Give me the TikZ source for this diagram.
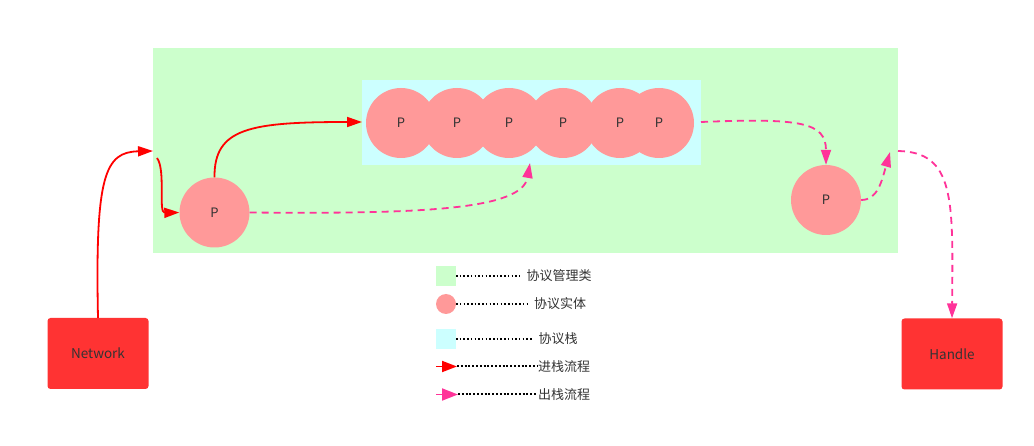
\documentclass[tikz,border=0pt]{standalone}
\usepackage{fontspec}
\setmainfont{Noto Sans CJK SC}
\usetikzlibrary{arrows.meta}
\definecolor{mgr}{HTML}{CCFFCC}
\definecolor{stk}{HTML}{CCFFFF}
\definecolor{ent}{HTML}{FF9999}
\definecolor{boxred}{HTML}{FF3333}
\definecolor{inred}{HTML}{FF0000}
\definecolor{outpink}{HTML}{FF3399}
\definecolor{txt}{HTML}{333333}
\tikzset{
  entity/.style={circle,fill=ent,minimum size=70pt,inner sep=0pt,text=txt,font=\fontsize{13pt}{15pt}\selectfont},
  endbox/.style={rounded corners=3pt,fill=boxred,minimum width=101pt,minimum height=71pt,inner sep=0pt,text=txt,font=\fontsize{13.5pt}{15pt}\selectfont},
  inflow/.style={draw=inred,line width=1.8pt,-{Triangle[length=15pt,width=10pt]}},
  outflow/.style={draw=outpink,line width=1.8pt,dash pattern=on 7pt off 5pt,-{Triangle[length=15pt,width=10pt]}},
  dotline/.style={draw=black,line width=1.5pt,dash pattern=on 1.5pt off 2.2pt},
  legtext/.style={text=txt,font=\fontsize{13pt}{15pt}\selectfont,inner sep=0pt}
}
\begin{document}
\begin{tikzpicture}[x=1pt,y=-1pt]
\useasboundingbox (0,0) rectangle (1034,446);
% containers
\fill[mgr] (153,48) rectangle (898,253);
\fill[stk] (362,80) rectangle (701,165);
% stack entities
\node[entity] (s1) at (401,123) {P};
\node[entity] (s2) at (457,123) {P};
\node[entity] (s3) at (509,123) {P};
\node[entity] (s4) at (563,123) {P};
\node[entity] (s5) at (620,123) {P};
\node[entity] (s6) at (659,123) {P};
% single entities
\node[entity] (pl) at (214.5,212.5) {P};
\node[entity] (pr) at (826,200) {P};
% end boxes
\node[endbox] (net) at (98,353.5) {Network};
\node[endbox] (hdl) at (952,354) {Handle};
% free-end coordinates
\coordinate (inA) at (153,151);
\coordinate (inB) at (157,158);
\coordinate (stkL) at (362,122);
\coordinate (stkR) at (701,122);
\coordinate (stkB) at (530,163);
\coordinate (outA) at (890,152);
\coordinate (outB) at (898,151);
% in-stack flow
\draw[inflow] (net.north) .. controls (95,175) and (105,152) .. (inA);
\draw[inflow] (inB) .. controls (166,170) and (158,213) .. (pl.west);
\draw[inflow] (pl.north) .. controls (214,128) and (250,122) .. (stkL);
% out-stack flow
\draw[outflow] (pl.east) .. controls (420,214) and (522,210) .. (stkB);
\draw[outflow] (stkR) .. controls (800,118) and (826,122) .. (pr.north);
\draw[outflow] (pr.east) .. controls (878,200) and (882,180) .. (outA);
\draw[outflow] (outB) .. controls (955,152) and (953,200) .. (hdl.north);
% legend
\fill[mgr] (436,266) rectangle (456,286);
\coordinate (l1a) at (456,276); \coordinate (l1b) at (522,276);
\draw[dotline] (l1a) -- (l1b);
\node[legtext] (t1) at (559,276) {协议管理类};
\node[circle,fill=ent,minimum size=20pt,inner sep=0pt] (lc) at (446,304) {};
\coordinate (l2b) at (527,304);
\draw[dotline] (lc.east) -- (l2b);
\node[legtext] (t2) at (560,304) {协议实体};
\fill[stk] (436,329) rectangle (456,349);
\coordinate (l3a) at (456,339); \coordinate (l3b) at (532,339);
\draw[dotline] (l3a) -- (l3b);
\node[legtext] (t3) at (558,339) {协议栈};
\coordinate (l4a) at (436,366.5); \coordinate (l4b) at (457,366.5); \coordinate (l4c) at (537,366.5);
\draw[draw=inred,line width=1.8pt,-{Triangle[length=15pt,width=11pt]}] (l4a) -- (l4b);
\draw[dotline,line width=2pt,dash pattern=on 2pt off 1.8pt] (l4b) -- (l4c);
\node[legtext] (t4) at (564,366.5) {进栈流程};
\coordinate (l5a) at (436,394.5); \coordinate (l5b) at (458,394.5); \coordinate (l5c) at (537,394.5);
\draw[draw=outpink,line width=1.8pt,-{Triangle[length=16pt,width=12pt]}] (l5a) -- (l5b);
\draw[dotline,line width=2pt,dash pattern=on 2pt off 1.8pt] (l5b) -- (l5c);
\node[legtext] (t5) at (564,394.5) {出栈流程};
\end{tikzpicture}
\end{document}
